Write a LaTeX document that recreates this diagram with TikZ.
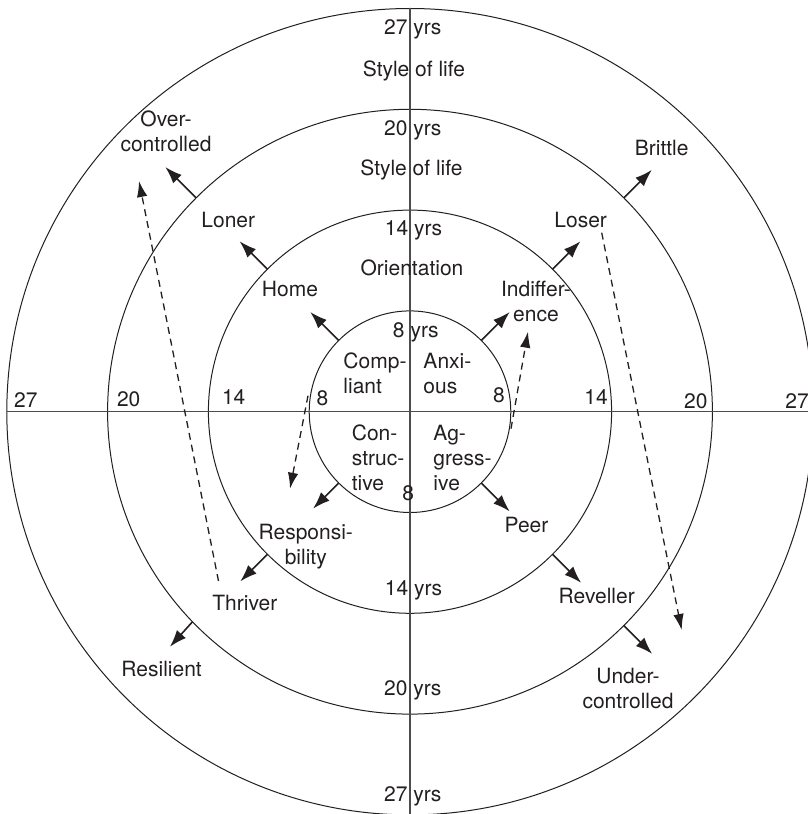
\documentclass[tikz,border=0pt]{standalone}
\usepackage{fontspec}
\setmainfont{TeX Gyre Heros}
\usetikzlibrary{arrows.meta}
\definecolor{ink}{HTML}{231F20}
\tikzset{
  ring/.style={circle,draw=ink,line width=1pt,inner sep=0pt,outer sep=0pt},
  axisline/.style={draw=black!70,line width=1.3pt},
  lbl/.style={text=ink,inner sep=0pt,font=\fontsize{21}{25}\selectfont,anchor=base},
  blockc/.style={lbl,align=center},
  blockl/.style={lbl,align=left,anchor=base west},
  arr/.style={draw=ink,line width=1.6pt,-{Latex[length=17pt,width=12pt]}},
  darr/.style={draw=ink,line width=1.3pt,dash pattern=on 7pt off 5pt,-{Latex[length=16pt,width=10.5pt]}}
}
\begin{document}
\begin{tikzpicture}[x=1pt,y=1pt]
\useasboundingbox (-410,-402.3) rectangle (398,411.7);
\clip (-410,-402.3) rectangle (398,411.7);
% rings
\node[ring,minimum size=201.6pt] (c8) at (0,0) {};
\node[ring,minimum size=403.2pt] (c14) at (0,0) {};
\node[ring,minimum size=604.8pt] (c20) at (0,0) {};
\node[ring,minimum size=806.4pt] (c27) at (0,0) {};
% axes
\draw[axisline] (c27.west) -- (c27.east);
\draw[axisline] (c27.north) -- (c27.south);
% vertical axis labels
\node[lbl] (t27) at (2.8,377.4) {27 yrs};
\node[lbl] (sl1) at (4,335) {Style of life};
\node[lbl] (t20) at (2.8,276.2) {20 yrs};
\node[lbl] (sl2) at (1.5,236.5) {Style of life};
\node[lbl] (t14) at (3.5,176.2) {14 yrs};
\node[lbl] (ori) at (2,136) {Orientation};
\node[lbl] (t8) at (5.8,74.4) {8 yrs};
\node[lbl] (b8) at (-1.7,-88.3) {8};
\node[lbl] (b14) at (3.5,-183.5) {14 yrs};
\node[lbl] (b20) at (2.8,-283.9) {20 yrs};
\node[lbl] (b27) at (2.8,-390) {27 yrs};
% horizontal axis labels
\node[lbl] (l27) at (-384.2,4.5) {27};
\node[lbl] (l20) at (-281.3,5) {20};
\node[lbl] (l14) at (-176.3,7) {14};
\node[lbl] (l8) at (-87.5,6.7) {8};
\node[lbl] (r8) at (89,9) {8};
\node[lbl] (r14) at (186,7) {14};
\node[lbl] (r20) at (285.8,3.5) {20};
\node[lbl] (r27) at (387,3.5) {27};
% inner quadrant texts (base = last line)
\node[blockl] (cmp) at (-66.7,18.4) {Comp-\\liant};
\node[blockl] (anx) at (13.3,18.4) {Anxi-\\ous};
\node[blockl] (con) at (-58.3,-78.3) {Con-\\struc-\\tive};
\node[blockl] (agg) at (23.3,-78.3) {Ag-\\gress-\\ive};
% outcome labels
\node[lbl] (home) at (-120,115.4) {Home};
\node[blockc] (ind) at (126,90.4) {Indiffer-\\ence};
\node[blockc] (rsp) at (-104.2,-152.6) {Responsi-\\bility};
\node[lbl] (peer) at (116.5,-121) {Peer};
\node[lbl] (loner) at (-181.7,184.4) {Loner};
\node[lbl] (loser) at (170.7,184.4) {Loser};
\node[lbl] (thriver) at (-165.2,-198.3) {Thriver};
\node[lbl] (revel) at (186.7,-191.6) {Reveller};
\node[blockc] (ovc) at (-244,260) {Over-\\controlled};
\node[lbl] (brittle) at (251.7,255.7) {Brittle};
\node[lbl] (resil) at (-248.4,-264.9) {Resilient};
\node[blockc] (udc) at (218,-296.6) {Under-\\controlled};
% arrow tips
\coordinate (a1) at (135:141);
\coordinate (a2) at (45:141);
\coordinate (a3) at (225:137);
\coordinate (a4) at (-45:141);
\coordinate (b1) at (135:241);
\coordinate (b2) at (45:241);
\coordinate (b3) at (225:240);
\coordinate (b4) at (-45:242);
\coordinate (e1) at (135:346);
\coordinate (e2) at (45:342);
\coordinate (e3) at (224.4:336);
\coordinate (e4) at (-45:342.5);
\draw[arr] (c8.135) -- (a1);
\draw[arr] (c8.45) -- (a2);
\draw[arr] (c8.225) -- (a3);
\draw[arr] (c8.-45) -- (a4);
\draw[arr] (c14.135) -- (b1);
\draw[arr] (c14.45) -- (b2);
\draw[arr] (c14.225) -- (b3);
\draw[arr] (c14.-45) -- (b4);
\draw[arr] (c20.135) -- (e1);
\draw[arr] (c20.45) -- (e2);
\draw[arr] (c20.224.4) -- (e3);
\draw[arr] (c20.-45) -- (e4);
% dashed transitions
\coordinate (d1s) at (-191.5,-169.3);
\coordinate (d1e) at (-271,230.7);
\coordinate (d2s) at (191.7,179);
\coordinate (d2e) at (271.7,-218.3);
\coordinate (d3s) at (-102,16);
\coordinate (d3e) at (-120,-77);
\coordinate (d4s) at (101,-17);
\coordinate (d4e) at (118,80);
\draw[darr] (d1s) -- (d1e);
\draw[darr] (d2s) -- (d2e);
\draw[darr] (d3s) -- (d3e);
\draw[darr] (d4s) -- (d4e);
\end{tikzpicture}
\end{document}
